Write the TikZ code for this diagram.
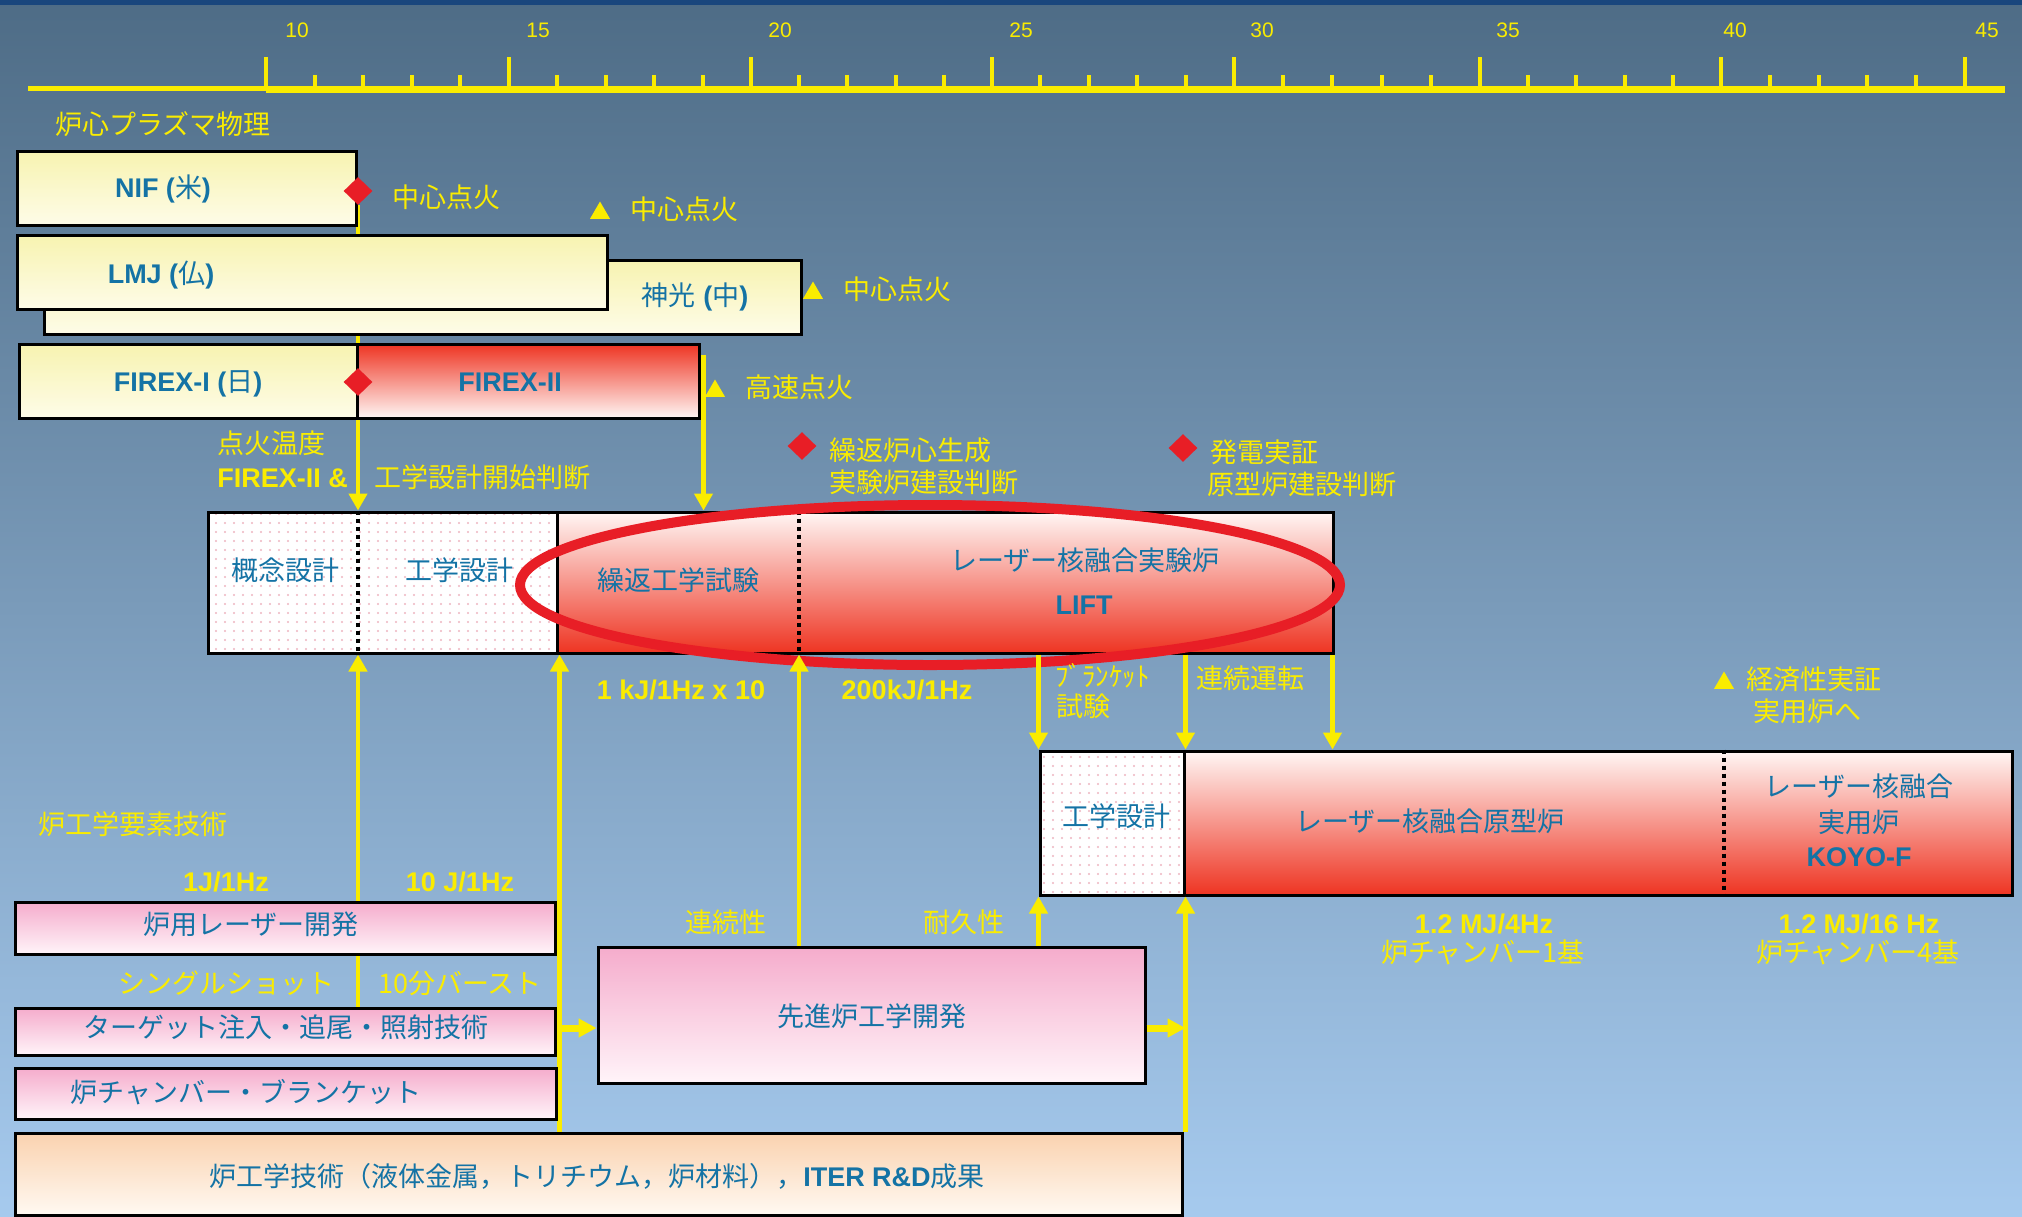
\documentclass[tikz,border=0pt]{standalone}
\usepackage{fontspec}
\setmainfont{Liberation Sans}
\newfontfamily\jp{Noto Sans CJK JP}
\usetikzlibrary{arrows.meta,patterns.meta,shapes.geometric}
\pgfdeclarelayer{back}
\pgfdeclarelayer{lines}
\pgfsetlayers{back,lines,main}
\definecolor{ylw}{RGB}{250,236,0}
\definecolor{txtblue}{RGB}{20,115,165}
\definecolor{dred}{RGB}{232,30,38}
\definecolor{yb1}{RGB}{247,243,176}
\definecolor{yb2}{RGB}{254,252,232}
\definecolor{rd}{RGB}{238,52,34}
\definecolor{rl}{RGB}{255,246,244}
\definecolor{pk}{RGB}{245,172,204}
\definecolor{pkl}{RGB}{255,244,249}
\definecolor{pe}{RGB}{250,210,175}
\definecolor{pel}{RGB}{255,249,242}
\definecolor{dotc}{RGB}{238,180,192}
\definecolor{bg1}{RGB}{78,108,134}
\definecolor{bg2}{RGB}{112,150,184}
\definecolor{bg3}{RGB}{166,202,238}
\definecolor{topbar}{RGB}{25,70,125}
\newcommand\fs{\fontsize{13.5pt}{16pt}\selectfont}
\newcommand\tls{\fontsize{10.5pt}{12pt}\selectfont}
\newcommand\jm[1]{{\jp\mdseries #1}}
\begin{document}
\begin{tikzpicture}[x=0.5pt,y=-0.5pt,
  box/.style={draw=black, line width=1.5pt, inner sep=0pt},
  ybox/.style={box, top color=yb1, bottom color=yb2},
  rbox/.style={box, top color=rl, bottom color=rd},
  rboxinv/.style={box, top color=rd, bottom color=rl},
  pbox/.style={box, top color=pk, bottom color=pkl},
  obox/.style={box, top color=pe, bottom color=pel},
  wbox/.style={box, preaction={fill=white}, pattern={Dots[distance=4.5pt,radius=0.55pt]}, pattern color=dotc},
  ylab/.style={text=ylw, font=\jp\fs, inner sep=0pt, text height=11pt, text depth=2pt},
  ybold/.style={text=ylw, font=\rmfamily\bfseries\fs, inner sep=0pt, text height=11pt, text depth=2pt},
  btext/.style={text=txtblue, font=\jp\fs, inner sep=0pt, text height=11pt, text depth=2pt},
  bbold/.style={text=txtblue, font=\rmfamily\bfseries\fs, inner sep=0pt, text height=11pt, text depth=2pt},
  tlab/.style={text=ylw, font=\rmfamily\tls, inner sep=0pt},
  dia/.style={diamond, fill=dred, inner sep=0pt, minimum width=14.5pt, minimum height=14pt},
  tri/.style={regular polygon, regular polygon sides=3, fill=ylw, inner sep=0pt, minimum size=11.5pt},
  yarr/.style={draw=ylw, line width=2.25pt, -{Triangle[width=9pt,length=8.5pt]}},
  ythick/.style={draw=ylw, line width=3.5pt, -{Triangle[width=9pt,length=9pt]}},
  divl/.style={draw=black, line width=1.6pt, dash pattern=on 2pt off 2pt},
  tick/.style={draw=ylw, line width=2.4pt},
  mtick/.style={draw=ylw, line width=2pt}
]
\useasboundingbox (0,0) rectangle (2022,1216);
\begin{pgfonlayer}{back}
  \shade[top color=bg1, middle color=bg2, bottom color=bg3] (0,0) rectangle (2022,1216);
  \fill[topbar] (0,0) rectangle (2022,5);
\end{pgfonlayer}

% ---------- timeline ----------
\draw[ylw, line width=2.5pt] (28,88) -- (266,88);
\draw[ylw, line width=3.25pt] (266,89.5) -- (2005,89.5);
\foreach \x in {266,509,751,992,1234,1480,1721,1965} \draw[tick] (\x,57) -- (\x,90);
\foreach \x in {314.6,363.2,411.8,460.4,557.4,605.8,654.2,702.6,799.2,847.4,895.6,943.8,
  1040.4,1088.8,1137.2,1185.6,1283.2,1332.4,1381.6,1430.8,1528.2,1576.4,1624.6,1672.8,
  1769.8,1818.6,1867.4,1916.2} \draw[mtick] (\x,75) -- (\x,92);
\node[tlab] (y10) at (297,30) {10};
\node[tlab] (y15) at (538,30) {15};
\node[tlab] (y20) at (780,30) {20};
\node[tlab] (y25) at (1021,30) {25};
\node[tlab] (y30) at (1262,30) {30};
\node[tlab] (y35) at (1508,30) {35};
\node[tlab] (y40) at (1735,30) {40};
\node[tlab] (y45) at (1987,30) {45};

\node[ylab, anchor=west] (lplasma) at (55,125) {炉心プラズマ物理};

% ---------- upper boxes ----------
\node[ybox, minimum width=378.5pt, minimum height=37pt] (sg) at (422.5,297) {};
\node[ybox, minimum width=295pt, minimum height=37pt] (lmj) at (312,272) {};
\node[ybox, minimum width=169.5pt, minimum height=37pt] (nif) at (186.5,188) {};
\node[ybox, minimum width=169pt, minimum height=37pt] (fx1) at (188,381) {};
\node[rboxinv, minimum width=171pt, minimum height=37pt] (fx2) at (528,381) {};

\node[bbold] (tnif) at (163,188) {NIF (\jm{米})};
\node[bbold] (tlmj) at (161,274) {LMJ (\jm{仏})};
\node[bbold] (tsg) at (695,296) {\jm{神光} (\jm{中})};
\node[bbold] (tfx1) at (188,382) {FIREX-I (\jm{日})};
\node[bbold] (tfx2) at (510,382) {FIREX-II};

\node[dia] (dnif) at (358,191) {};
\node[dia] (dfx) at (358,382) {};

\node[ylab, anchor=west] (l1) at (392,198) {中心点火};
\node[tri] (tr1) at (600,213) {};
\node[ylab, anchor=west] (l2) at (630,210) {中心点火};
\node[tri] (tr2) at (813,293) {};
\node[ylab, anchor=west] (l3) at (843,290) {中心点火};
\node[tri] (tr3) at (715,391) {};
\node[ylab, anchor=west] (l4) at (745,388) {高速点火};
\node[ylab, anchor=west] (l5) at (217,444) {点火温度};
\node[ybold, anchor=west] (l6) at (217,478) {FIREX-II \&};
\node[ylab, anchor=west] (l7) at (374,478) {工学設計開始判断};
\node[dia] (d3) at (802,446) {};
\node[ylab, anchor=west] (l8) at (829,451) {繰返炉心生成};
\node[ylab, anchor=west] (l9) at (829,483) {実験炉建設判断};
\node[dia] (d4) at (1183,448) {};
\node[ylab, anchor=west] (l10) at (1210,453) {発電実証};
\node[ylab, anchor=west] (l11) at (1207,485) {原型炉建設判断};

% ---------- middle row ----------
\node[wbox, minimum width=174.5pt, minimum height=70.5pt] (concept) at (382.5,582.5) {};
\node[rbox, minimum width=388pt, minimum height=70.5pt] (lift) at (945,582.5) {};
\coordinate (ldv) at (799,582);
\draw[divl] (dnif |- concept.north) -- (dnif |- concept.south);
\draw[divl] (ldv |- lift.north) -- (ldv |- lift.south);
\node[btext] (tc1) at (285,571) {概念設計};
\node[btext] (tc2) at (459,571) {工学設計};
\node[btext] (tc3) at (678,581) {繰返工学試験};
\node[btext] (tc4) at (1085,561) {レーザー核融合実験炉};
\node[bbold] (tc5) at (1084,605) {LIFT};

\node[ellipse, draw=dred, line width=5pt, minimum width=410pt, minimum height=80pt, inner sep=0pt] (oval) at (930,585) {};

\node[ybold] (l12) at (681,690) {1 kJ/1Hz x 10};
\node[ybold] (l13) at (907,690) {200kJ/1Hz};
\node[ylab, anchor=west] (l14) at (1055,677) {ﾌﾞﾗﾝｹｯﾄ};
\node[ylab, anchor=west] (l15) at (1056,707) {試験};
\node[ylab, anchor=west] (l16) at (1196,679) {連続運転};
\node[tri] (tr4) at (1724,683) {};
\node[ylab, anchor=west] (l17) at (1746,680) {経済性実証};
\node[ylab, anchor=west] (l18) at (1753,712) {実用炉へ};

% ---------- lower right ----------
\node[wbox, minimum width=72pt, minimum height=72pt] (eng2) at (1112,823) {};
\node[rbox, minimum width=414pt, minimum height=72pt] (proto) at (1598,823) {};
\coordinate (pdv) at (1724,823);
\draw[divl] (pdv |- proto.north) -- (pdv |- proto.south);
\node[btext] (te1) at (1116,817) {工学設計};
\node[btext] (te2) at (1430,822) {レーザー核融合原型炉};
\node[btext] (te3) at (1859,787) {レーザー核融合};
\node[btext] (te4) at (1859,823) {実用炉};
\node[bbold] (te5) at (1859,857) {KOYO-F};

\node[ybold] (l19) at (1484,924) {1.2 MJ/4Hz};
\node[ylab] (l20) at (1483,953) {炉チャンバー1基};
\node[ybold] (l21) at (1859,924) {1.2 MJ/16 Hz};
\node[ylab] (l22) at (1858,953) {炉チャンバー4基};

% ---------- lower left ----------
\node[ylab, anchor=west] (l23) at (38,825) {炉工学要素技術};
\node[ybold] (l24) at (226,882) {1J/1Hz};
\node[ybold] (l25) at (460,882) {10 J/1Hz};
\node[pbox, minimum width=270pt, minimum height=26pt] (laser) at (285,928) {};
\node[ylab] (l26) at (226,984) {シングルショット};
\node[ylab] (l27) at (460,984) {10分バースト};
\node[pbox, minimum width=270pt, minimum height=23.5pt] (target) at (285,1031.5) {};
\node[pbox, minimum width=270.5pt, minimum height=25.5pt] (chamber) at (285.5,1093.5) {};
\node[obox, minimum width=583.5pt, minimum height=41pt] (iter) at (598.5,1174) {};
\node[pbox, minimum width=273.5pt, minimum height=68pt] (adv) at (871.5,1015) {};
\node[ylab] (l28) at (726,923) {連続性};
\node[ylab] (l29) at (964,923) {耐久性};

\node[btext] (tl1) at (251,925) {炉用レーザー開発};
\node[btext] (tl2) at (286,1028) {ターゲット注入・追尾・照射技術};
\node[btext] (tl3) at (246,1093) {炉チャンバー・ブランケット};
\node[btext] (tl4) at (872,1017) {先進炉工学開発};
\node[btext] (tl5) at (597,1177) {炉工学技術（液体金属，トリチウム，炉材料），{\rmfamily\bfseries ITER R\&D}成果};

% ---------- connectors behind boxes ----------
\coordinate (cse) at ([xshift=0.5pt]concept.south east);
\begin{pgfonlayer}{lines}
  \draw[yarr] (dnif) -- (dnif |- concept.north);
  \draw[yarr] (target.north -| dnif) -- (dnif |- concept.south);
  \draw[yarr] (iter.north -| cse) -- (cse);
\end{pgfonlayer}

% ---------- connectors ----------
\coordinate (fx2top) at ([shift={(1.5pt,-6pt)}]fx2.north east);
\draw[yarr] (fx2top) -- (fx2top |- lift.north);
\draw[yarr] (adv.north -| ldv) -- (ldv |- lift.south);
\draw[yarr] (adv.north -| eng2.south west) -- (eng2.south west);
\draw[yarr] (iter.north -| eng2.south east) -- (eng2.south east);
\draw[yarr] (lift.south -| eng2.north west) -- (eng2.north west);
\draw[yarr] (lift.south -| eng2.north east) -- (eng2.north east);
\coordinate (lse) at ([xshift=-1pt]lift.south east);
\draw[yarr] (lse) -- (lse |- proto.north);
\coordinate (ta) at (559,1028);
\draw[ythick] (ta) -- (ta -| adv.west);
\draw[ythick] (adv.east |- ta) -- (ta -| eng2.south east);
\end{tikzpicture}
\end{document}
